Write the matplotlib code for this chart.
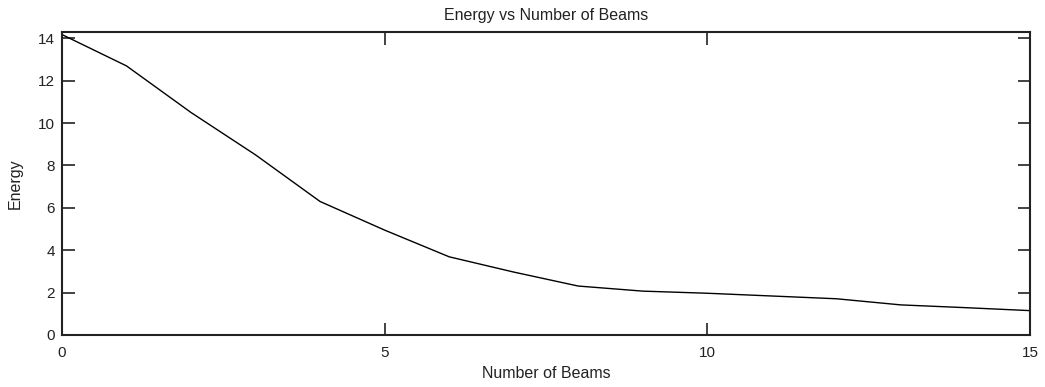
import matplotlib
matplotlib.use("Agg")
import matplotlib.pyplot as plt

# Veri: ışın sayısı ve enerji
beams = [0, 1, 2, 3, 4, 5, 6, 7, 8, 9, 10, 11, 12, 13, 14, 15]
energy = [14.18, 12.7, 10.5, 8.5, 6.3, 4.95, 3.69, 2.97, 2.31, 2.07, 1.97,
          1.84, 1.71, 1.42, 1.29, 1.15]
x_ticks = [0, 5, 10, 15]
y_ticks = [0, 2, 4, 6, 8, 10, 12, 14]

plt.rcParams['font.family'] = ['Liberation Sans', 'DejaVu Sans']

fig = plt.figure(figsize=(10.45, 3.87), dpi=100)
ax = fig.add_axes([0.0593, 0.1344, 0.9263, 0.7829])

ax.plot(beams, energy, color='black', linewidth=1.0)

ax.set_xlim(0, 15)
ax.set_ylim(0, 14.3)
ax.set_xticks(x_ticks)
ax.set_yticks(y_ticks)

ax.tick_params(direction='in', length=9, width=1.2, top=True, right=True,
               labelsize=11, colors='#222222')
ax.tick_params(axis='x', pad=8)
ax.tick_params(axis='y', pad=5)
for s in ax.spines.values():
    s.set_linewidth(1.5)
    s.set_color('#222222')

ax.set_title('Energy vs Number of Beams', fontsize=11.5, pad=9, color='#222222')
ax.set_xlabel('Number of Beams', fontsize=11.5, labelpad=4, color='#222222')
ax.set_ylabel('Energy', fontsize=11.5, labelpad=11, color='#222222')

fig.savefig('out.png', dpi=100)
